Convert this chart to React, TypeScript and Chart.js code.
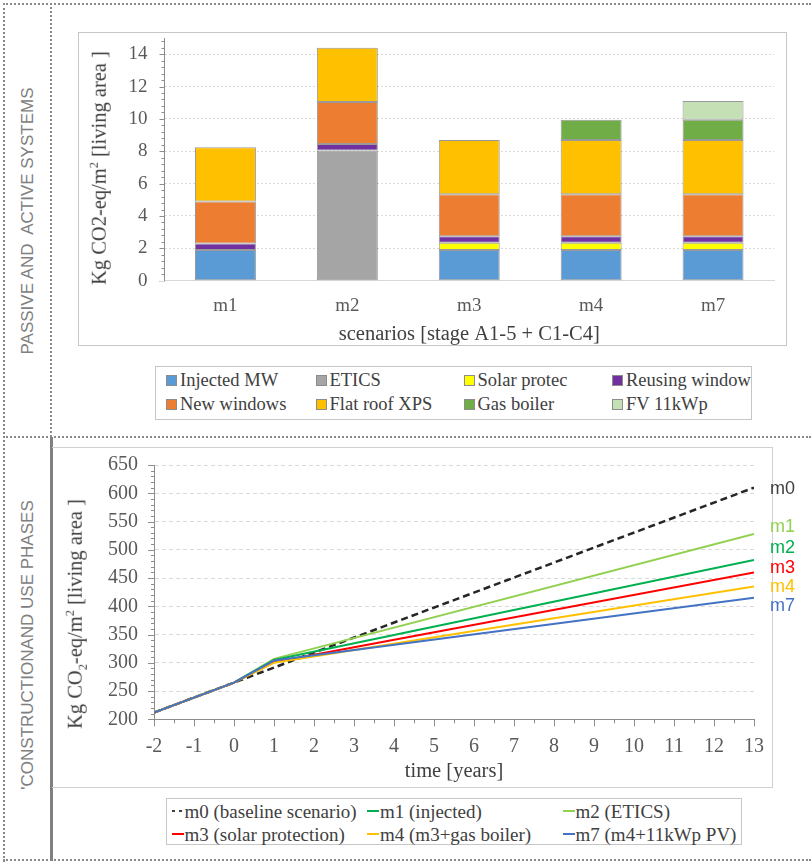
import React, { useEffect, useRef } from 'react';
import { Chart, registerables } from 'chart.js';

Chart.register(...registerables);

const SERIF = '"Liberation Serif", "Times New Roman", serif';
const SANS = '"Liberation Sans", Arial, sans-serif';

// ---------- Top chart: stacked bars ----------
const scenarios = ['m1', 'm2', 'm3', 'm4', 'm7'];
const injectedMW = [1.9, null, 1.9, 1.9, 1.9];
const etics = [null, 8.05, null, null, null];
const solarProtec = [null, null, 0.45, 0.45, 0.45];
const reusingWindow = [0.4, 0.4, 0.4, 0.4, 0.4];
const newWindows = [2.6, 2.6, 2.6, 2.6, 2.6];
const flatRoofXPS = [3.35, 3.35, 3.35, 3.35, 3.35];
const gasBoiler = [null, null, null, 1.25, 1.25];
const fv11kWp = [null, null, null, null, 1.15];
const barYTicks = [0, 2, 4, 6, 8, 10, 12, 14];

const barSeries = [
  { label: 'Injected MW', data: injectedMW, color: '#5b9bd5' },
  { label: 'ETICS', data: etics, color: '#a5a5a5' },
  { label: 'Solar protec', data: solarProtec, color: '#ffff00' },
  { label: 'Reusing window', data: reusingWindow, color: '#7030a0' },
  { label: 'New windows', data: newWindows, color: '#ed7d31' },
  { label: 'Flat roof XPS', data: flatRoofXPS, color: '#ffc000' },
  { label: 'Gas boiler', data: gasBoiler, color: '#70ad47' },
  { label: 'FV 11kWp', data: fv11kWp, color: '#c5e0b4' },
];

// ---------- Bottom chart: cumulative lines ----------
const keyYears = [-2, 0, 1, 13];
const m0Years = [-2, 0, 13];
const m0Values = [212, 265, 610];
const m1Values = [212, 265, 305, 482];
const m2Values = [212, 265, 307, 528];
const m3Values = [212, 265, 301, 460];
const m4Values = [212, 265, 300, 435];
const m7Values = [212, 265, 304, 415];

const lineSeries = [
  { label: 'm0 (baseline scenario)', x: m0Years, y: m0Values, color: '#262626', dash: [7, 4], width: 2.5, order: 6 },
  { label: 'm1 (injected)', x: keyYears, y: m1Values, color: '#00b050', dash: [], width: 2, order: 4 },
  { label: 'm2 (ETICS)', x: keyYears, y: m2Values, color: '#92d050', dash: [], width: 2, order: 5 },
  { label: 'm3 (solar protection)', x: keyYears, y: m3Values, color: '#ff0000', dash: [], width: 2, order: 3 },
  { label: 'm4 (m3+gas boiler)', x: keyYears, y: m4Values, color: '#ffc000', dash: [], width: 2, order: 2 },
  { label: 'm7 (m4+11kWp PV)', x: keyYears, y: m7Values, color: '#4472c4', dash: [], width: 2, order: 1 },
];

const endLabels = [
  { text: 'm0', color: '#404040', y: 488 },
  { text: 'm1', color: '#92d050', y: 526 },
  { text: 'm2', color: '#00b050', y: 546.5 },
  { text: 'm3', color: '#ff0000', y: 566.5 },
  { text: 'm4', color: '#ffc000', y: 585.5 },
  { text: 'm7', color: '#4472c4', y: 604.5 },
];

const AXIS = '#8c8c8c';
const GRID = '#d9d9d9';
const TICK = '#595959';
const TXT = '#404040';

const barTicksPlugin = {
  id: 'barMinorTicks',
  afterDraw(chart: any) {
    const { ctx } = chart;
    const y = chart.scales.y;
    const x = chart.scales.x;
    ctx.save();
    ctx.strokeStyle = AXIS;
    ctx.lineWidth = 1;
    ctx.beginPath();
    for (let i = 0; i <= 37; i++) {
      const py = Math.round(y.getPixelForValue(i * 0.4)) + 0.5;
      const len = i % 5 === 0 ? 5 : 3;
      ctx.moveTo(y.right - len, py);
      ctx.lineTo(y.right, py);
    }
    ctx.stroke();
    ctx.strokeStyle = GRID;
    ctx.beginPath();
    const by = Math.round(x.top) + 0.5;
    ctx.moveTo(y.right - 5, by);
    ctx.lineTo(y.right, by);
    ctx.stroke();
    ctx.restore();
  },
};

const lineTicksPlugin = {
  id: 'lineMinorTicks',
  afterDraw(chart: any) {
    const { ctx } = chart;
    const y = chart.scales.y;
    const x = chart.scales.x;
    ctx.save();
    ctx.strokeStyle = AXIS;
    ctx.lineWidth = 1;
    ctx.beginPath();
    for (let i = 0; i <= 45; i++) {
      const py = Math.round(y.getPixelForValue(200 + i * 10)) + 0.5;
      const len = i % 5 === 0 ? 6 : 3;
      ctx.moveTo(y.right - len, py);
      ctx.lineTo(y.right, py);
    }
    for (let i = 0; i <= 30; i++) {
      const px = Math.round(x.getPixelForValue(-2 + i * 0.5)) + 0.5;
      const len = i % 2 === 0 ? 7 : 4;
      ctx.moveTo(px, x.top);
      ctx.lineTo(px, x.top + len);
    }
    ctx.stroke();
    ctx.restore();
  },
};

function Line(props: { left: number; top: number; width?: number; height?: number; style: any }) {
  return (
    <div
      style={{
        position: 'absolute',
        left: props.left,
        top: props.top,
        width: props.width ?? 0,
        height: props.height ?? 0,
        ...props.style,
      }}
    />
  );
}

export default function App() {
  const barRef = useRef<HTMLCanvasElement>(null);
  const lineRef = useRef<HTMLCanvasElement>(null);

  useEffect(() => {
    const barChart = new Chart(barRef.current as HTMLCanvasElement, {
      type: 'bar',
      data: {
        labels: scenarios,
        datasets: barSeries.map((s) => ({
          label: s.label,
          data: s.data as any,
          backgroundColor: s.color,
          borderColor: 'rgba(70,70,70,0.55)',
          borderWidth: 1,
          borderSkipped: false,
          categoryPercentage: 1,
          barPercentage: 0.5,
        })),
      },
      options: {
        responsive: false,
        animation: false,
        devicePixelRatio: 1,
        layout: { padding: { left: 0, right: 12, top: 6, bottom: 0 } },
        plugins: { legend: { display: false }, tooltip: { enabled: false } },
        scales: {
          x: {
            stacked: true,
            grid: { display: false },
            border: { display: true, color: GRID },
            ticks: { color: TICK, font: { family: SERIF, size: 19 }, padding: 6 },
            title: {
              display: true,
              text: 'scenarios [stage A1-5 + C1-C4]',
              color: TXT,
              font: { family: SERIF, size: 20.5, lineHeight: 1 },
              padding: 0,
            },
            afterFit: (s: any) => {
              s.height = 64.3;
              s.paddingLeft = 0;
              s.paddingRight = 0;
            },
          },
          y: {
            stacked: true,
            min: 0,
            max: 15,
            afterBuildTicks: (s: any) => {
              s.ticks = barYTicks.map((v) => ({ value: v }));
            },
            grid: { color: GRID, drawTicks: false },
            border: { display: true, color: AXIS, dash: [2, 2] },
            ticks: { color: TICK, font: { family: SERIF, size: 19 }, padding: 17 },
            afterFit: (s: any) => {
              s.width = 86.5;
              s.paddingTop = 0;
              s.paddingBottom = 0;
            },
          },
        },
      } as any,
      plugins: [barTicksPlugin],
    });

    const lineChart = new Chart(lineRef.current as HTMLCanvasElement, {
      type: 'line',
      data: {
        datasets: lineSeries.map((s) => ({
          label: s.label,
          data: s.x.map((xv, i) => ({ x: xv, y: s.y[i] })),
          borderColor: s.color,
          backgroundColor: s.color,
          borderDash: s.dash,
          borderWidth: s.width,
          pointRadius: 0,
          tension: 0,
          fill: false,
          order: s.order,
        })),
      },
      options: {
        responsive: false,
        animation: false,
        devicePixelRatio: 1,
        layout: { padding: { left: 0, right: 18, top: 18, bottom: 0 } },
        plugins: { legend: { display: false }, tooltip: { enabled: false } },
        scales: {
          x: {
            type: 'linear',
            min: -2,
            max: 13,
            grid: { display: false },
            border: { display: true, color: AXIS },
            ticks: { stepSize: 1, color: TICK, font: { family: SERIF, size: 20 }, padding: 7 },
            title: {
              display: true,
              text: 'time [years]',
              color: TXT,
              font: { family: SERIF, size: 20.5, lineHeight: 1 },
              padding: { top: 0, bottom: 5 },
            },
            afterFit: (s: any) => {
              s.height = 67.7;
              s.paddingLeft = 0;
              s.paddingRight = 0;
            },
          },
          y: {
            min: 200,
            max: 650,
            grid: { color: GRID, drawTicks: false },
            border: { display: true, color: AXIS, dash: [4, 3] },
            ticks: { stepSize: 50, color: TICK, font: { family: SERIF, size: 20 }, padding: 16 },
            afterFit: (s: any) => {
              s.width = 102;
              s.paddingTop = 0;
              s.paddingBottom = 0;
            },
          },
        },
      } as any,
      plugins: [lineTicksPlugin],
    });

    return () => {
      barChart.destroy();
      lineChart.destroy();
    };
  }, []);

  const dotted = '2px dotted #8a8a8a';
  const legendFont1 = { fontFamily: SERIF, fontSize: 18.5, color: TXT, lineHeight: 1 };
  const legendFont2 = { fontFamily: SERIF, fontSize: 19, color: TXT, lineHeight: 1 };
  const leg1Cols = [180, 329.5, 477.5, 626];
  const leg1Rows = [380, 404];
  const leg2Cols = [184.5, 380, 575.5];
  const leg2Rows = [811, 833.5];

  return (
    <div
      style={{
        position: 'absolute',
        left: 0,
        top: 0,
        width: 811,
        height: 865,
        background: '#ffffff',
        overflow: 'hidden',
      }}
    >
      {/* frame */}
      <Line left={3} top={3} width={808} style={{ borderTop: dotted }} />
      <Line left={3} top={3} height={859} style={{ borderLeft: dotted }} />
      <Line left={50} top={3} height={434} style={{ borderLeft: dotted }} />
      <Line left={3} top={436} width={808} style={{ borderTop: dotted }} />
      <Line left={3} top={859} width={808} style={{ borderTop: dotted }} />
      <Line left={50} top={437} width={3} height={424} style={{ background: '#808080' }} />

      {/* side labels */}
      <div
        style={{
          position: 'absolute',
          left: 27,
          top: 221,
          transform: 'translate(-50%, -50%) rotate(-90deg)',
          whiteSpace: 'pre',
          fontFamily: SANS,
          fontSize: 17,
          color: '#808080',
          lineHeight: 1,
        }}
      >
        {'PASSIVE AND  ACTIVE SYSTEMS'}
      </div>
      <div
        style={{
          position: 'absolute',
          left: 27,
          top: 645,
          transform: 'translate(-50%, -50%) rotate(-90deg)',
          whiteSpace: 'pre',
          fontFamily: SANS,
          fontSize: 17,
          color: '#808080',
          lineHeight: 1,
        }}
      >
        {"'CONSTRUCTIONAND USE PHASES"}
      </div>

      {/* top chart */}
      <div
        style={{
          position: 'absolute',
          left: 78,
          top: 32,
          width: 709,
          height: 314,
          boxSizing: 'border-box',
          border: '1px solid #c6c6c6',
        }}
      />
      <canvas
        ref={barRef}
        width={708}
        height={313}
        style={{ position: 'absolute', left: 78, top: 32, width: 708, height: 313 }}
      />
      <div
        style={{
          position: 'absolute',
          left: 99,
          top: 168,
          transform: 'translate(-50%, -50%) rotate(-90deg)',
          whiteSpace: 'pre',
          fontFamily: SERIF,
          fontSize: 20.5,
          color: TXT,
          lineHeight: 1,
        }}
      >
        Kg CO2-eq/m<sup style={{ fontSize: '0.6em', lineHeight: 0 }}>2</sup> [living area ]
      </div>

      {/* top legend */}
      <div
        style={{
          position: 'absolute',
          left: 155,
          top: 366,
          width: 597,
          height: 54,
          boxSizing: 'border-box',
          border: '1px solid #c6c6c6',
        }}
      />
      {barSeries.map((s, i) => {
        const cx = leg1Cols[i % 4];
        const cy = leg1Rows[Math.floor(i / 4)];
        return (
          <React.Fragment key={s.label}>
            <div
              style={{
                position: 'absolute',
                left: cx - 14,
                top: cy - 5,
                width: 9,
                height: 9,
                background: s.color,
                border: '1px solid #8c8c8c',
              }}
            />
            <div
              style={{
                position: 'absolute',
                left: cx,
                top: cy,
                transform: 'translateY(-50%)',
                whiteSpace: 'pre',
                ...legendFont1,
              }}
            >
              {s.label}
            </div>
          </React.Fragment>
        );
      })}

      {/* bottom chart */}
      <div
        style={{
          position: 'absolute',
          left: 52,
          top: 447,
          width: 721,
          height: 341,
          boxSizing: 'border-box',
          borderTop: '1px solid #d0d0d0',
          borderRight: '1px solid #d0d0d0',
          borderBottom: '1px solid #d0d0d0',
        }}
      />
      <canvas
        ref={lineRef}
        width={720}
        height={340}
        style={{ position: 'absolute', left: 52, top: 447, width: 720, height: 340 }}
      />
      <div
        style={{
          position: 'absolute',
          left: 74.5,
          top: 614,
          transform: 'translate(-50%, -50%) rotate(-90deg)',
          whiteSpace: 'pre',
          fontFamily: SERIF,
          fontSize: 20.5,
          color: TXT,
          lineHeight: 1,
        }}
      >
        Kg CO<sub style={{ fontSize: '0.6em', lineHeight: 0 }}>2</sub>-eq/m
        <sup style={{ fontSize: '0.6em', lineHeight: 0 }}>2</sup> [living area ]
      </div>
      {endLabels.map((l) => (
        <div
          key={l.text}
          style={{
            position: 'absolute',
            left: 770,
            top: l.y,
            transform: 'translateY(-50%)',
            fontFamily: SANS,
            fontSize: 18,
            color: l.color,
            lineHeight: 1,
          }}
        >
          {l.text}
        </div>
      ))}

      {/* bottom legend */}
      <div
        style={{
          position: 'absolute',
          left: 165.5,
          top: 797.5,
          width: 576,
          height: 47.5,
          boxSizing: 'border-box',
          border: '1px solid #c6c6c6',
        }}
      />
      {lineSeries.map((s, i) => {
        const cx = leg2Cols[i % 3];
        const cy = leg2Rows[Math.floor(i / 3)];
        const dashed = s.dash.length > 0;
        return (
          <React.Fragment key={s.label}>
            <div
              style={{
                position: 'absolute',
                left: cx - 13,
                top: cy - 1,
                width: 12,
                height: 2,
                background: dashed
                  ? 'repeating-linear-gradient(to right, #404040 0px, #404040 3px, transparent 3px, transparent 7px)'
                  : s.color,
              }}
            />
            <div
              style={{
                position: 'absolute',
                left: cx,
                top: cy,
                transform: 'translateY(-50%)',
                whiteSpace: 'pre',
                ...legendFont2,
              }}
            >
              {s.label}
            </div>
          </React.Fragment>
        );
      })}
    </div>
  );
}
